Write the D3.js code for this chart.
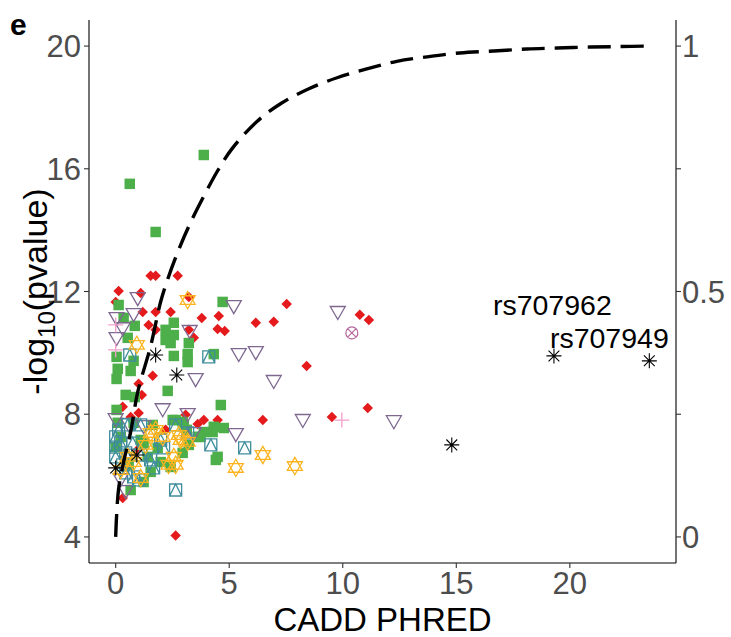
<!DOCTYPE html>
<html>
<head>
<meta charset="utf-8">
<script src="https://cdn.jsdelivr.net/npm/d3@7"></script>
<style>
  body { margin: 0; background: #fff; }
</style>
</head>
<body>
<div id="chart"></div>
<script>
// ---- data: [CADD PHRED, -log10(pvalue)] ----
const greenSquares = [
  [3.88,16.45],[0.62,15.51],[1.76,13.94],[0.13,11.56],[0.35,11.14],[0.84,10.88],[2.56,10.98],
  [2.20,10.75],[2.20,10.42],[2.56,10.58],[2.42,10.32],[3.22,10.32],[3.17,9.96],[3.17,9.70],
  [2.56,9.90],[0.53,10.49],[0.04,9.87],[0.79,9.74],[0.09,9.48],[0.66,9.41],[0.04,9.15],
  [0.44,8.63],[2.29,8.76],[4.71,11.66],[4.32,9.96],[0.84,8.56],[4.63,8.30],[2.95,7.75],
  [4.27,7.42],[4.76,7.55],[3.74,7.26],[4.49,6.61],[4.32,7.59],[3.88,7.42],[3.61,7.26],
  [3.22,7.00],[4.41,6.51],[1.63,7.65],[2.64,7.81],[0.79,7.72],[0.09,7.72],[0.22,7.26],
  [0.00,6.93],[1.41,6.61],[1.98,6.44],[2.42,6.28],[1.23,5.79],[2.95,6.74],[1.23,7.06],
  [2.51,7.81],[3.00,7.65],[0.04,8.14],[1.10,7.16],[1.85,6.90],[0.57,6.35],[1.54,6.12],
  [3.13,7.49],[0.66,5.53]
];
const redDiamonds = [
  [1.54,12.51],[1.76,12.51],[2.73,12.51],[1.10,11.95],[0.00,11.66],[1.19,11.33],[1.76,11.33],
  [2.42,11.33],[3.22,11.82],[3.79,11.14],[4.54,11.20],[4.49,10.78],[4.80,10.71],[6.17,10.98],
  [6.96,11.01],[7.53,11.59],[10.75,11.24],[11.15,11.07],[8.41,9.57],[11.10,8.20],[9.52,7.91],
  [6.48,7.81],[4.49,7.81],[3.88,7.81],[3.61,7.68],[3.08,7.98],[1.45,10.91],[1.76,10.75],
  [3.22,10.75],[3.44,10.49],[1.63,9.25],[1.01,8.99],[1.15,8.63],[2.64,4.05],[0.31,8.24],
  [1.01,8.04],[0.66,7.91],[2.20,7.49],[0.97,6.84],[0.31,5.27],[0.13,12.02]
];
const purpleTriangles = [
  [0.97,11.82],[0.79,11.30],[0.04,11.17],[0.04,10.52],[0.31,10.84],[5.20,11.56],[9.78,11.37],
  [3.26,10.75],[5.42,10.00],[6.17,10.06],[3.52,9.18],[6.96,9.12],[8.24,7.85],[12.25,7.81],
  [3.17,8.04],[3.44,7.42],[5.29,7.39],[2.07,8.20],[0.00,7.88],[0.57,7.72],[1.23,7.65],
  [0.44,5.53],[0.22,5.92]
];
const tealSquareTriangles = [
  [0.62,9.93],[4.10,9.87],[4.19,7.00],[5.68,6.90],[2.64,5.53],[2.64,7.65],[3.17,7.39],
  [1.67,6.25],[1.01,5.86],[0.44,6.09],[0.79,5.96],[0.00,7.26],[0.00,6.93],[0.22,7.06],
  [0.00,6.61],[0.75,7.06],[0.44,6.74],[2.11,6.90],[0.13,7.49],[1.10,6.67],[1.54,6.51],
  [0.53,7.65],[1.10,7.65],[1.98,7.16],[0.31,6.35]
];
const orangeStars = [
  [3.17,11.72],[0.93,10.26],[6.48,6.67],[5.29,6.25],[7.89,6.31],[2.78,7.32],[3.17,7.10],
  [2.56,6.61],[2.33,6.35],[1.54,7.39],[1.76,7.49],[2.86,7.16],[2.64,6.35],[1.10,5.92],
  [0.79,6.44],[0.53,6.61],[2.07,7.26],[1.32,7.00],[0.22,6.18]
];
const blackAsterisks = [
  [1.76,9.93],[2.69,9.28],[19.3,9.90],[23.5,9.74],[14.8,7.00],[0.00,6.25],[0.93,6.67]
];
const pinkPlus = [[0.00,10.91],[0.00,10.10],[9.96,7.81]];
const circleCross = [[10.4,10.65]];

// labelled SNPs: text, x, y of text baseline
const snpLabels = ['rs707962', 'rs707949'];
const snpLabelX = [19.23, 21.74];
const snpLabelY = [11.24, 10.16];

// dashed curve, read on the right axis (0-1)
const curveX = [0, 0.04, 0.13, 0.35, 0.66, 0.97, 1.54, 1.98, 2.29, 2.73, 3.22, 3.88, 4.49, 5.11,
  6.21, 7.31, 8.46, 9.78, 11.1, 12.38, 13.7, 15.15, 16.65, 18.1, 19.43, 20.88, 22.2, 23.5];
const curveP = [0, 0.043, 0.098, 0.153, 0.214, 0.295, 0.389, 0.479, 0.525, 0.580, 0.633, 0.694,
  0.746, 0.790, 0.846, 0.884, 0.912, 0.936, 0.954, 0.969, 0.978, 0.986, 0.990, 0.994, 0.996,
  0.998, 0.999, 1.0];

const xTicks = [0, 5, 10, 15, 20];
const yTicks = [4, 8, 12, 16, 20];
const pTicks = [0, 0.25, 0.5, 0.75, 1];
const pTickLabels = ['0', '', '0.5', '', '1'];

// ---- layout ----
const W = 731, H = 637;
const FONT = '"Liberation Sans", Arial, Helvetica, sans-serif';
const panel = { left: 89, right: 676, top: 20, bottom: 563 };
const TICK_FS = 31;

const x = d3.scaleLinear().domain([-1.175, 24.675]).range([panel.left, panel.right]);
const y = d3.scaleLinear().domain([3.15, 20.85]).range([panel.bottom, panel.top]);
const yP = d3.scaleLinear().domain([(3.15 - 4) / 16, (20.85 - 4) / 16]).range([panel.bottom, panel.top]);

const svg = d3.select('#chart').append('svg')
  .attr('width', W).attr('height', H)
  .style('display', 'block')
  .attr('font-family', FONT);

svg.append('rect').attr('width', W).attr('height', H).attr('fill', '#fff');

// ---- marker shapes ----
const shapes = {
  square: s => `M${-s/2},${-s/2}h${s}v${s}h${-s}Z`,
  diamond: s => `M0,${-s/2}L${s/2},0L0,${s/2}L${-s/2},0Z`,
  triDown: s => {
    const h = s * 0.866;
    return `M${-s/2},${-h/3}L${s/2},${-h/3}L0,${2*h/3}Z`;
  },
  triUp: s => {
    const h = s * 0.866;
    return `M${-s/2},${h/3}L${s/2},${h/3}L0,${-2*h/3}Z`;
  },
  star: s => shapes.triUp(s) + shapes.triDown(s),
  squareTri: s => `M${-s/2},${-s/2}h${s}v${s}h${-s}Z M${-s/2},${s/2}L0,${-s/2}L${s/2},${s/2}`,
  plus: s => `M${-s/2},0H${s/2}M0,${-s/2}V${s/2}`,
  cross: s => `M${-s/2},${-s/2}L${s/2},${s/2}M${-s/2},${s/2}L${s/2},${-s/2}`,
  asterisk: s => shapes.plus(s) + shapes.cross(s * 0.72),
  circleCross: s => {
    const r = s / 2, c = r * 0.7071;
    return `M${r},0A${r},${r} 0 1,1 ${-r},0A${r},${r} 0 1,1 ${r},0Z` +
      `M${-c},${-c}L${c},${c}M${-c},${c}L${c},${-c}`;
  }
};

const layers = [
  { data: redDiamonds, path: shapes.diamond(10.5), fill: '#e41a1c', stroke: 'none' },
  { data: greenSquares, path: shapes.square(10.5), fill: '#4daf4a', stroke: 'none' },
  { data: purpleTriangles, path: shapes.triDown(15), fill: 'none', stroke: '#7e6890', sw: 1.3 },
  { data: tealSquareTriangles, path: shapes.squareTri(12), fill: 'none', stroke: '#3f8d9c', sw: 1.3 },
  { data: orangeStars, path: shapes.star(15), fill: 'none', stroke: '#fbb41f', sw: 1.3 },
  { data: blackAsterisks, path: shapes.asterisk(15), fill: 'none', stroke: '#000', sw: 1.1 },
  { data: pinkPlus, path: shapes.plus(15), fill: 'none', stroke: '#f29fca', sw: 1.3 },
  { data: circleCross, path: shapes.circleCross(12), fill: 'none', stroke: '#b5689c', sw: 1.2 }
];

const pts = svg.append('g');
layers.forEach(L => {
  pts.append('g').selectAll('path').data(L.data).join('path')
    .attr('transform', d => `translate(${x(d[0])},${y(d[1])})`)
    .attr('d', L.path)
    .attr('fill', L.fill)
    .attr('stroke', L.stroke)
    .attr('stroke-width', L.sw || 0);
});

// ---- dashed curve (secondary axis) ----
const curve = d3.line()
  .x((d, i) => x(curveX[i]))
  .y(d => yP(d))
  .curve(d3.curveCatmullRom.alpha(0.5));
svg.append('path')
  .attr('d', curve(curveP))
  .attr('fill', 'none')
  .attr('stroke', '#000')
  .attr('stroke-width', 3.4)
  .attr('stroke-dasharray', '23,10');

// ---- SNP labels ----
svg.append('g').selectAll('text').data(snpLabels).join('text')
  .attr('x', (d, i) => x(snpLabelX[i]))
  .attr('y', (d, i) => y(snpLabelY[i]))
  .attr('text-anchor', 'middle')
  .attr('font-size', 28.5)
  .attr('fill', '#000')
  .text(d => d);

// ---- axes ----
const axisColor = '#000';
const tickLabelColor = '#4d4d4d';

svg.append('line')
  .attr('x1', panel.left).attr('x2', panel.left)
  .attr('y1', panel.top).attr('y2', panel.bottom)
  .attr('stroke', axisColor).attr('stroke-width', 1.1);
svg.append('line')
  .attr('x1', panel.right).attr('x2', panel.right)
  .attr('y1', panel.top).attr('y2', panel.bottom)
  .attr('stroke', axisColor).attr('stroke-width', 1.1);
svg.append('line')
  .attr('x1', panel.left).attr('x2', panel.right)
  .attr('y1', panel.bottom).attr('y2', panel.bottom)
  .attr('stroke', axisColor).attr('stroke-width', 1.1);

// left ticks
const gl = svg.append('g');
gl.selectAll('line').data(yTicks).join('line')
  .attr('x1', panel.left - 5).attr('x2', panel.left)
  .attr('y1', d => y(d)).attr('y2', d => y(d))
  .attr('stroke', '#333').attr('stroke-width', 1.1);
gl.selectAll('text').data(yTicks).join('text')
  .attr('x', panel.left - 8).attr('y', d => y(d))
  .attr('dy', '0.36em')
  .attr('text-anchor', 'end')
  .attr('font-size', TICK_FS).attr('fill', tickLabelColor)
  .text(d => d);

// right ticks
const gr = svg.append('g');
gr.selectAll('line').data(pTicks).join('line')
  .attr('x1', panel.right).attr('x2', panel.right + 5)
  .attr('y1', d => yP(d)).attr('y2', d => yP(d))
  .attr('stroke', '#333').attr('stroke-width', 1.1);
gr.selectAll('text').data(pTicks).join('text')
  .attr('x', panel.right + 6).attr('y', d => yP(d))
  .attr('dy', '0.36em')
  .attr('font-size', TICK_FS).attr('fill', tickLabelColor)
  .text((d, i) => pTickLabels[i]);

// bottom ticks
const gb = svg.append('g');
gb.selectAll('line').data(xTicks).join('line')
  .attr('x1', d => x(d)).attr('x2', d => x(d))
  .attr('y1', panel.bottom).attr('y2', panel.bottom + 5)
  .attr('stroke', '#333').attr('stroke-width', 1.1);
gb.selectAll('text').data(xTicks).join('text')
  .attr('x', d => x(d)).attr('y', panel.bottom + 31)
  .attr('text-anchor', 'middle')
  .attr('font-size', TICK_FS).attr('fill', tickLabelColor)
  .text(d => d);

// axis titles
svg.append('text')
  .attr('x', (panel.left + panel.right) / 2).attr('y', 631)
  .attr('text-anchor', 'middle')
  .attr('font-size', 33).attr('fill', '#000')
  .text('CADD PHRED');

const yt = svg.append('text')
  .attr('transform', `translate(47,${(panel.top + panel.bottom) / 2}) rotate(-90)`)
  .attr('text-anchor', 'middle')
  .attr('font-size', 34).attr('fill', '#000');
yt.append('tspan').text('-log');
yt.append('tspan').attr('font-size', 24).attr('dy', 8).text('10');
yt.append('tspan').attr('dy', -8).text('(pvalue)');

// panel tag
svg.append('text')
  .attr('x', 10).attr('y', 35)
  .attr('font-size', 30).attr('font-weight', 'bold')
  .attr('fill', '#000')
  .text('e');
</script>
</body>
</html>
